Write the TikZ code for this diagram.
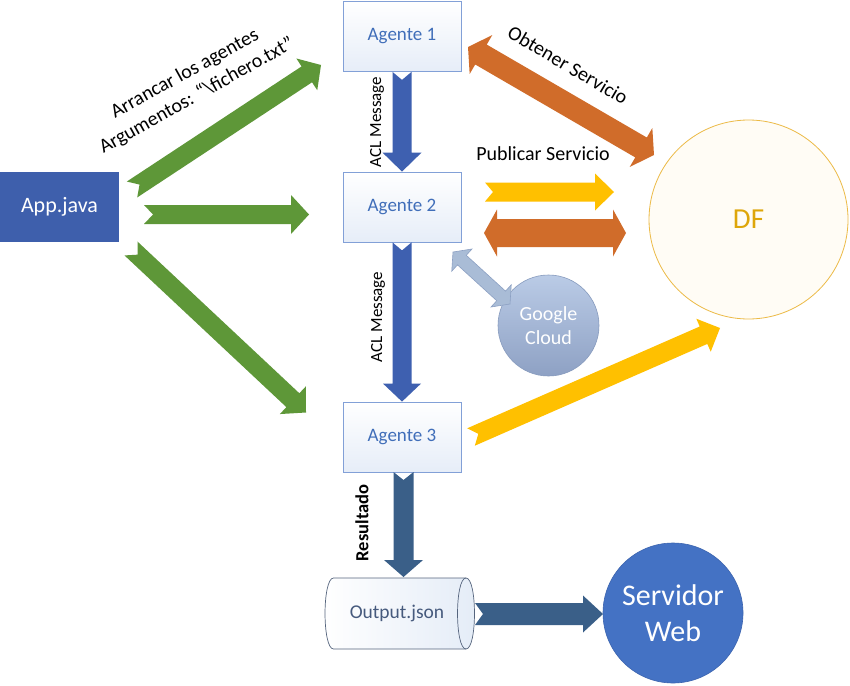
\documentclass[tikz,border=0pt]{standalone}
\usepackage{fontspec}
\setmainfont{Carlito}
\usetikzlibrary{calc,shapes.geometric}
\definecolor{garr}{RGB}{94,151,56}
\definecolor{barr}{RGB}{62,96,176}
\definecolor{appfill}{RGB}{62,95,172}
\definecolor{oarr}{RGB}{208,108,42}
\definecolor{yarr}{RGB}{255,192,0}
\definecolor{sarr}{RGB}{58,95,136}
\definecolor{webfill}{RGB}{68,114,196}
\definecolor{webbd}{RGB}{60,100,175}
\definecolor{gctop}{RGB}{186,203,230}
\definecolor{gcbot}{RGB}{142,161,196}
\definecolor{gcbd}{RGB}{135,155,190}
\definecolor{grarr}{RGB}{169,188,214}
\definecolor{grarrbd}{RGB}{140,160,195}
\definecolor{agentbd}{RGB}{130,160,215}
\definecolor{agentbg}{RGB}{230,237,248}
\definecolor{agenttx}{RGB}{64,110,185}
\definecolor{dfbd}{RGB}{236,186,70}
\definecolor{dfbg}{RGB}{255,252,245}
\definecolor{dftx}{RGB}{222,166,10}
\definecolor{cylbd}{RGB}{85,100,125}
\definecolor{cylbg}{RGB}{228,236,247}
\definecolor{cyltx}{RGB}{70,90,125}
% single block arrow: style, start, end, shaft half width, head half width, head length, notch depth
\newcommand{\singlearrow}[7]{%
 \path[#1] ($(#2)!#4!90:(#3)$) -- ($(#3)!#6!(#2)!#4!-90:(#2)$) -- ($(#3)!#6!(#2)!#5!-90:(#2)$)
  -- (#3) -- ($(#3)!#6!(#2)!#5!90:(#2)$) -- ($(#3)!#6!(#2)!#4!90:(#2)$)
  -- ($(#2)!#4!-90:(#3)$) -- ($(#2)!#7!(#3)$) -- cycle;}
% double block arrow: style, end A, end B, shaft half width, head half width, head length
\newcommand{\doublearrow}[6]{%
 \path[#1] (#2) -- ($(#2)!#6!(#3)!#5!90:(#3)$) -- ($(#2)!#6!(#3)!#4!90:(#3)$)
  -- ($(#3)!#6!(#2)!#4!-90:(#2)$) -- ($(#3)!#6!(#2)!#5!-90:(#2)$) -- (#3)
  -- ($(#3)!#6!(#2)!#5!90:(#2)$) -- ($(#3)!#6!(#2)!#4!90:(#2)$)
  -- ($(#2)!#6!(#3)!#4!-90:(#3)$) -- ($(#2)!#6!(#3)!#5!-90:(#3)$) -- cycle;}
\tikzset{
 agent/.style={draw=agentbd, line width=0.8pt, top color=white, bottom color=agentbg,
   minimum width=118pt, minimum height=70pt, inner sep=0pt, text=agenttx,
   font=\fontsize{19}{23}\selectfont},
 appbox/.style={fill=appfill, minimum width=119pt, minimum height=70pt, inner sep=0pt,
   text=white, font=\fontsize{22}{26}\selectfont},
 cylarea/.style={minimum width=150pt, minimum height=71pt, inner sep=0pt, text=cyltx,
   font=\fontsize{19.5}{23}\selectfont},
 cylbody/.style={draw=cylbd, line width=0.7pt, left color=white, right color=cylbg},
 cylline/.style={draw=cylbd, line width=0.7pt},
 websrv/.style={circle, fill=webfill, draw=webbd, line width=0.6pt, minimum size=140pt, inner sep=0pt,
   text=white, align=center, font=\fontsize{30}{36}\selectfont},
 gcloud/.style={circle, top color=gctop, bottom color=gcbot, draw=gcbd, line width=0.6pt,
   minimum size=101pt, inner sep=0pt, text=white, align=center, font=\fontsize{20}{24}\selectfont},
 dfnode/.style={circle, fill=dfbg, draw=dfbd, line width=0.8pt, minimum size=199pt,
   inner sep=0pt, text=dftx, font=\fontsize{29}{34}\selectfont},
 lbl/.style={text=black, align=center, inner sep=0pt, font=\fontsize{20}{25}\selectfont},
 small/.style={text=black, inner sep=0pt, font=\fontsize{17}{20}\selectfont},
 greenarr/.style={fill=garr},
 bluearr/.style={fill=barr},
 steelarr/.style={fill=sarr},
 yellowarr/.style={fill=yarr},
 orangearr/.style={fill=oarr},
 grayarr/.style={fill=grarr, draw=grarrbd, line width=0.6pt},
}
\begin{document}
\begin{tikzpicture}[x=1pt, y=-1pt]
\useasboundingbox[fill=white] (0,0) rectangle (850,685);
% nodes
\node[appbox] (app) at (59.5,207) {App.java};
\node[agent] (a1) at (402,36.5) {Agente 1};
\node[agent] (a2) at (402,207) {Agente 2};
\node[agent] (a3) at (402,437) {Agente 3};
% cylinder Output.json
\coordinate (cTL) at (333.5,578);
\coordinate (cTR) at (466,578);
\coordinate (cBR) at (466,649);
\coordinate (cBL) at (333.5,649);
\path[cylbody] (cTL) -- (cTR) .. controls (477.3,578) and (477.3,649) .. (cBR)
  -- (cBL) .. controls (322.2,649) and (322.2,578) .. (cTL) -- cycle;
\path[cylline] (cTR) .. controls (454.7,578) and (454.7,649) .. (cBR);
\node[cylarea] (out) at (397,613.5) {Output.json};
\node[websrv] (web) at (673,613) {Servidor\\Web};
\node[gcloud] (gc) at (548.5,325.5) {Google\\Cloud};
\node[dfnode] (df) at (748.5,219.5) {DF};
% arrow end points
\coordinate (g1s) at (132,189.5);
\coordinate (g1e) at (321,65);
\coordinate (g2s) at (144,214.5);
\coordinate (g2e) at (309,214.5);
\coordinate (g3s) at (131,248.5);
\coordinate (g3e) at (306,412.5);
\coordinate (r1s) at (403.5,472);
\coordinate (r1e) at (403.5,577);
\coordinate (r2s) at (475,614);
\coordinate (r2e) at (603,614);
\coordinate (y1s) at (485,192);
\coordinate (y1e) at (614,192);
\coordinate (y2s) at (471,437);
\coordinate (y2e) at (720,328);
\coordinate (o1a) at (468,47);
\coordinate (o1b) at (654,155);
\coordinate (o2a) at (484,233);
\coordinate (o2b) at (626,233);
\coordinate (c1a) at (453,252);
\coordinate (c1b) at (510,304);
% arrows
\singlearrow{greenarr}{g1s}{g1e}{9.5pt}{19pt}{17pt}{9pt}
\singlearrow{greenarr}{g2s}{g2e}{9.5pt}{19.5pt}{18pt}{9pt}
\singlearrow{greenarr}{g3s}{g3e}{9.5pt}{19pt}{18pt}{9pt}
\singlearrow{bluearr}{a1.south}{a2.north}{9.5pt}{19.5pt}{19pt}{8pt}
\singlearrow{bluearr}{a2.south}{a3.north}{9.5pt}{19pt}{18pt}{8pt}
\singlearrow{steelarr}{r1s}{r1e}{10pt}{19.5pt}{17pt}{8pt}
\singlearrow{steelarr}{r2s}{r2e}{11pt}{18.5pt}{20pt}{8pt}
\singlearrow{yellowarr}{y1s}{y1e}{9.5pt}{18.5pt}{19pt}{8pt}
\singlearrow{yellowarr}{y2s}{y2e}{9.5pt}{18pt}{18pt}{8pt}
\doublearrow{orangearr}{o1a}{o1b}{11.5pt}{22.5pt}{15pt}
\doublearrow{orangearr}{o2a}{o2b}{14pt}{23.5pt}{13pt}
\doublearrow{grayarr}{c1a}{c1b}{6.5pt}{15pt}{12pt}
% labels
\node[lbl, rotate=29] (targs) at (191,85) {Arrancar los agentes\\Argumentos: “\textbackslash fichero.txt”};
\node[lbl, rotate=-30.5] (tobt) at (568,65) {Obtener Servicio};
\node[lbl] (tpub) at (543,154) {Publicar Servicio};
\node[small, rotate=90] (tacl1) at (377,122) {ACL Message};
\node[small, rotate=90] (tacl2) at (378,317) {ACL Message};
\node[small, rotate=90, font=\fontsize{18.5}{22}\selectfont\bfseries] (tres) at (362,523) {Resultado};
\end{tikzpicture}
\end{document}
